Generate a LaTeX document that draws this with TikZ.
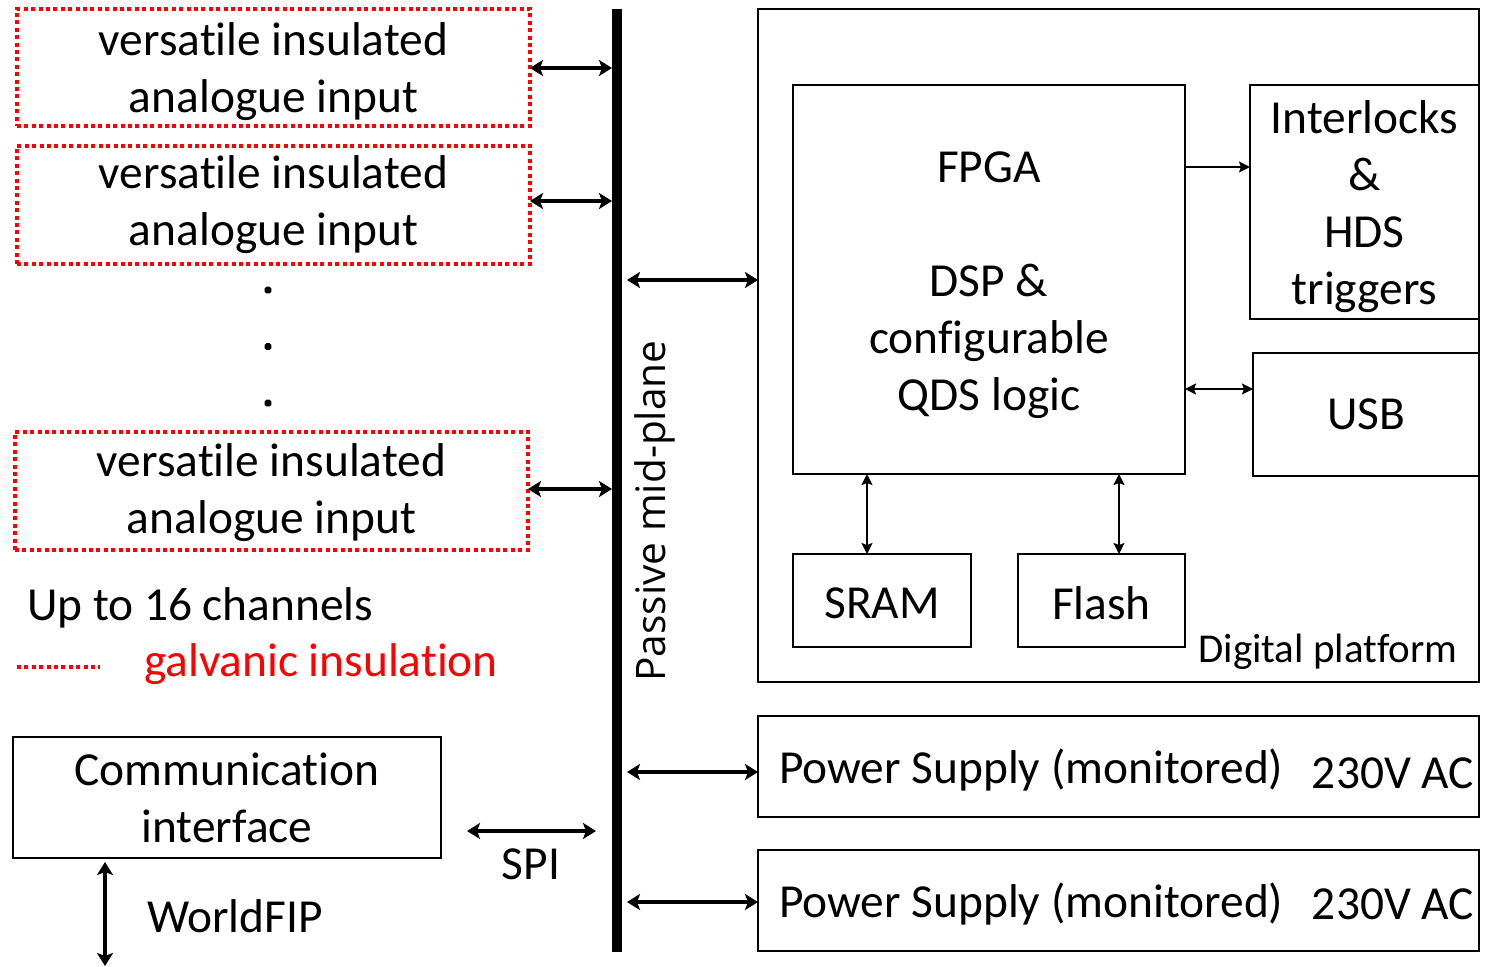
\documentclass[tikz,border=0pt]{standalone}
\usepackage{fontspec}
\setmainfont{Carlito}[Ligatures=NoCommon]
\newfontfamily\midfont{Open Sans}
\usetikzlibrary{arrows.meta,calc}
\begin{document}
\begin{tikzpicture}[x=0.5pt,y=-0.5pt,
  every node/.style={font=\fontsize{23.7}{28.5}\selectfont, inner sep=0pt, outer sep=0pt, align=center},
  box/.style={draw, line width=1.25pt},
  redbox/.style={draw=red, line width=2pt, dash pattern=on 2pt off 1.7pt},
  bigarrow/.style={line width=2pt, {Stealth[length=6.5pt,width=8pt,inset=1.5pt]}-{Stealth[length=6.5pt,width=8pt,inset=1.5pt]}},
  smallboth/.style={line width=1pt, {Stealth[length=5.5pt,width=5.5pt,inset=1pt]}-{Stealth[length=5.5pt,width=5.5pt,inset=1pt]}},
  smallone/.style={line width=1pt, -{Stealth[length=5.5pt,width=5.5pt,inset=1pt]}},
  dot/.style={rectangle, rounded corners=0.8pt, fill=black, minimum size=3.3pt}
]
\useasboundingbox (0,0) rectangle (1485,966);

% analogue inputs
\node[redbox, minimum width=256.5pt, minimum height=58.5pt] (in1) at (273.5,67.5) {};
\node[redbox, minimum width=256.5pt, minimum height=59pt] (in2) at (273.5,205) {};
\node[redbox, minimum width=256.5pt, minimum height=59pt] (in3) at (271.5,491) {};
\node (in1t) at ([yshift=-2pt]in1.center) {versatile insulated\\analogue input};
\node (in2t) at ([yshift=0pt]in2.center) {versatile insulated\\analogue input};
\node (in3t) at ([yshift=-1pt]in3.center) {versatile insulated\\analogue input};
\node[dot] (d1) at (268,290) {};
\node[dot] (d2) at (268,346.5) {};
\node[dot] (d3) at (268,403) {};

% bus
\node[fill=black, minimum width=5pt, minimum height=471.5pt] (bus) at (617,480.5) {};
\node[rotate=90, font=\midfont\fontsize{20.3}{24}\selectfont] (midlabel) at (655,511) {Passive mid-plane};

% digital platform
\node[box, minimum width=360.5pt, minimum height=336.5pt] (dp) at (1118.5,345.5) {};
\node[anchor=base, font=\fontsize{20.5}{24}\selectfont] (dplabel) at (1328,662) {Digital platform};
\node[box, minimum width=196pt, minimum height=194.5pt] (fpga) at (989,279.5) {};
\node (fpgat) at ([yshift=-3pt]fpga.center) {FPGA\\[28.5pt]DSP \&\\configurable\\QDS logic};
\node[box, minimum width=114.5pt, minimum height=117pt] (intl) at (1364.5,202) {};
\node (intlt) at ([yshift=-2.5pt]intl.center) {Interlocks\\\&\\HDS\\triggers};
\node[box, minimum width=113pt, minimum height=61.5pt] (usb) at (1366,414.5) {USB};
\node[box, minimum width=89pt, minimum height=46.5pt] (sram) at (882,600.5) {};
\node (sramt) at ([yshift=-1.5pt]sram.center) {SRAM};
\node[box, minimum width=83.5pt, minimum height=46.5pt] (flash) at (1101.5,600.5) {};
\node (flasht) at ([yshift=-1.5pt]flash.center) {Flash};

% power supplies
\node[box, minimum width=360.5pt, minimum height=50.5pt] (ps1) at (1118.5,766.5) {};
\node[box, minimum width=360.5pt, minimum height=50.5pt] (ps2) at (1118.5,900.5) {};
\node[anchor=west] (ps1t) at (779,770) {Power Supply (monitored)};
\node[anchor=east] (ps1v) at (1474,773) {230V AC};
\node[anchor=west] (ps2t) at (779,904) {Power Supply (monitored)};
\node[anchor=east] (ps2v) at (1474,904) {230V AC};

% legend
\node[anchor=west] (up16) at (27,608) {Up to 16 channels};
\coordinate (lg1) at (17,667);
\coordinate (lg2) at (100,667);
\draw[red, line width=2pt, dash pattern=on 2pt off 1.7pt] (lg1) -- (lg2);
\node[anchor=west, text=red] (galv) at (144,664) {galvanic insulation};

% communication interface
\node[box, minimum width=214pt, minimum height=60.5pt] (comm) at (227,797.5) {Communication\\interface};
\coordinate (spiA) at (467,831);
\coordinate (spiB) at (596,831);
\node (spil) at (531,864) {SPI};
\coordinate (wfA) at (105,862);
\coordinate (wfB) at (105,966);
\node (wfl) at (235,916) {WorldFIP};

% connectors
\draw[bigarrow] (in1.east |- 0,68) -- (bus.west |- 0,68);
\draw[bigarrow] (in2.east |- 0,201) -- (bus.west |- 0,201);
\draw[bigarrow] (in3.east |- 0,489) -- (bus.west |- 0,489);
\draw[bigarrow] ([xshift=2.5pt]bus.east |- 0,280) -- (dp.west |- 0,280);
\draw[bigarrow] ([xshift=2.5pt]bus.east |- 0,772) -- (ps1.west |- 0,772);
\draw[bigarrow] ([xshift=2.5pt]bus.east |- 0,902) -- (ps2.west |- 0,902);
\draw[bigarrow] (spiA) -- (spiB);
\draw[bigarrow] (wfA) -- (wfB);
\draw[smallone] (fpga.east |- 0,167) -- (intl.west |- 0,167);
\draw[smallboth] (fpga.east |- 0,389) -- (usb.west |- 0,389);
\draw[smallboth] (fpga.south -| 867,0) -- (sram.north -| 867,0);
\draw[smallboth] (fpga.south -| 1119,0) -- (flash.north -| 1119,0);
\end{tikzpicture}
\end{document}
